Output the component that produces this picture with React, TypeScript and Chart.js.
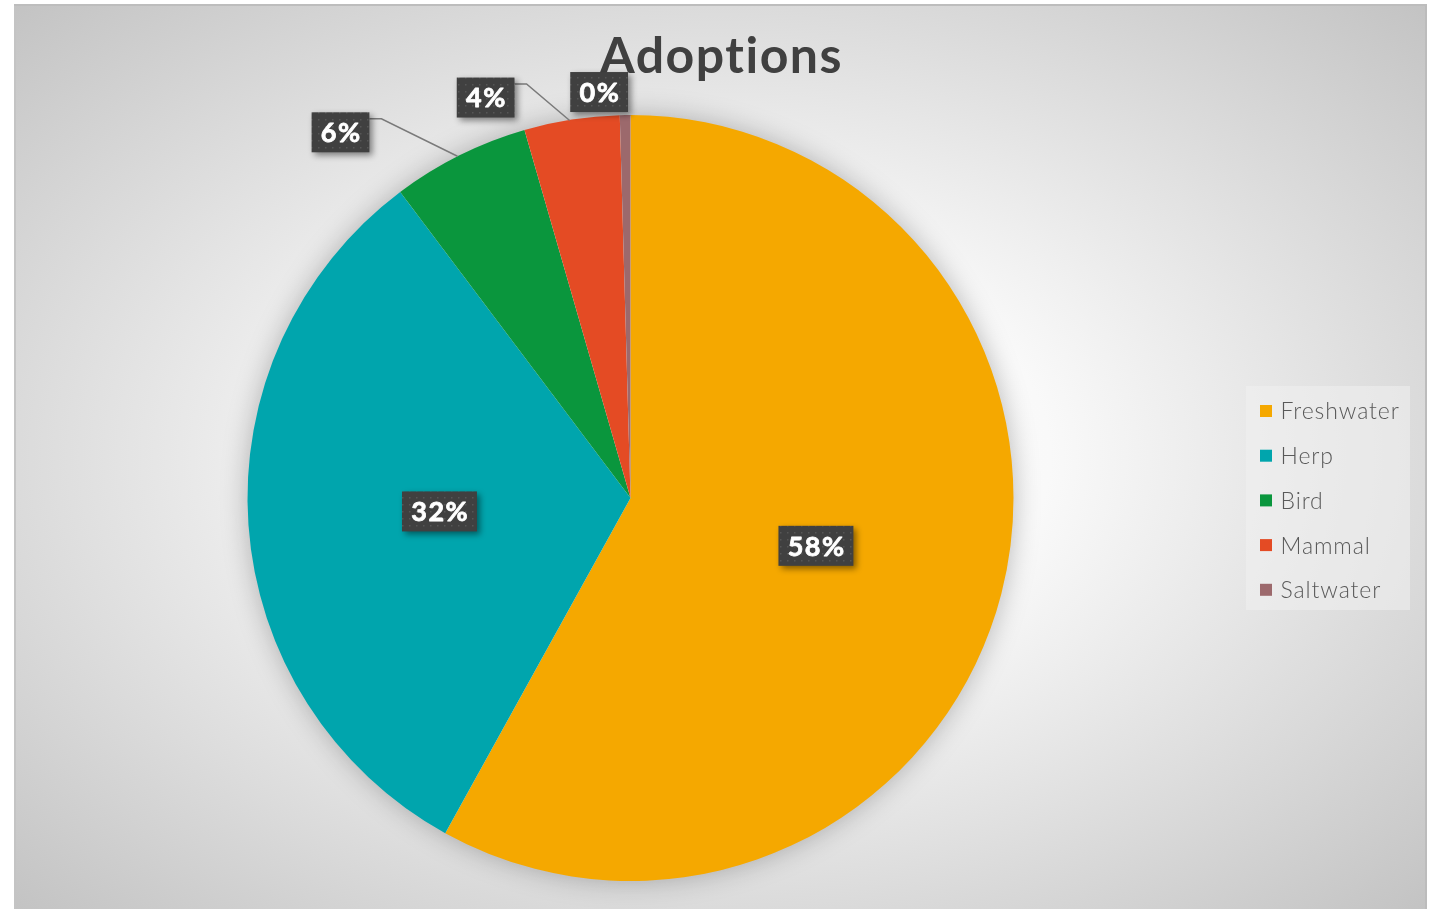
import React, { useEffect, useRef } from "react";
import { Chart, registerables } from "chart.js";

Chart.register(...registerables);

const categories = ["Freshwater", "Herp", "Bird", "Mammal", "Saltwater"];
const adoptions = [130, 71, 13, 9, 1];
const sliceColors = ["#F5A800", "#00A5AD", "#0A963D", "#E44B24", "#9C696C"];
const chartTitle = "Adoptions";
// label placement: inside at arc centre, or outside with offset from the arc's rim point
const labelPlacement = ["inside", "inside", "outside", "outside", "outside"];
const outsideOffsets: (number[] | null)[] = [null, null, [-119, -23], [-86, -22], [-26, -23]];
const leaderLines = [false, false, true, true, false];

const W = 1413;
const H = 905;

function makeDotPattern(ctx: CanvasRenderingContext2D) {
  const c = document.createElement("canvas");
  c.width = 7;
  c.height = 7;
  const p = c.getContext("2d")!;
  p.fillStyle = "#404040";
  p.fillRect(0, 0, 7, 7);
  p.fillStyle = "#565656";
  p.fillRect(3, 3, 1.5, 1.5);
  return ctx.createPattern(c, "repeat")!;
}

const decorPlugin = {
  id: "decor",
  beforeDatasetsDraw(chart: any) {
    const meta = chart.getDatasetMeta(0);
    const a = meta.data[0];
    if (!a) return;
    const ctx = chart.ctx;
    ctx.save();
    ctx.shadowColor = "rgba(0,0,0,0.28)";
    ctx.shadowBlur = 28;
    ctx.fillStyle = "#ffffff";
    ctx.beginPath();
    ctx.arc(a.x, a.y, a.outerRadius - 1, 0, Math.PI * 2);
    ctx.fill();
    ctx.restore();
  },
  afterDraw(chart: any) {
    const ctx: any = chart.ctx;
    const meta = chart.getDatasetMeta(0);
    const data: number[] = chart.data.datasets[0].data;
    const total = data.reduce((s, v) => s + v, 0);
    const pattern = makeDotPattern(ctx);

    // Title
    ctx.save();
    ctx.font = "bold 50px Lato";
    ctx.letterSpacing = "1.5px";
    ctx.fillStyle = "#404040";
    ctx.textAlign = "center";
    ctx.textBaseline = "alphabetic";
    ctx.fillText(chartTitle, W / 2 + 1, 69);
    ctx.restore();

    // Data labels
    meta.data.forEach((arc: any, i: number) => {
      const text = Math.round((data[i] / total) * 100) + "%";
      const mid = (arc.startAngle + arc.endAngle) / 2;
      let cx: number, cy: number;
      const rimX = arc.x + Math.cos(mid) * arc.outerRadius;
      const rimY = arc.y + Math.sin(mid) * arc.outerRadius;
      if (labelPlacement[i] === "inside") {
        const c = arc.getCenterPoint();
        cx = c.x;
        cy = c.y;
      } else {
        const off = outsideOffsets[i] || [0, 0];
        cx = rimX + off[0];
        cy = rimY + off[1];
      }
      ctx.save();
      ctx.font = "bold 27px Lato";
      ctx.letterSpacing = "1.5px";
      const tw = ctx.measureText(text).width;
      const bw = tw + 17;
      const bh = 40;
      const bx = cx - bw / 2;
      const by = cy - bh / 2;
      if (leaderLines[i]) {
        ctx.strokeStyle = "#7a7a7a";
        ctx.lineWidth = 1.5;
        ctx.beginPath();
        ctx.moveTo(bx + bw, by + 6.5);
        ctx.lineTo(bx + bw + 12, by + 6.5);
        ctx.lineTo(rimX - 2, rimY + 1);
        ctx.stroke();
      }
      ctx.shadowColor = "rgba(0,0,0,0.45)";
      ctx.shadowBlur = 6;
      ctx.shadowOffsetX = 3;
      ctx.shadowOffsetY = 3;
      ctx.fillStyle = pattern;
      ctx.fillRect(bx, by, bw, bh);
      ctx.shadowColor = "transparent";
      ctx.shadowBlur = 0;
      ctx.shadowOffsetX = 0;
      ctx.shadowOffsetY = 0;
      ctx.fillStyle = "#ffffff";
      ctx.strokeStyle = "#ffffff";
      ctx.lineWidth = 0.8;
      ctx.lineJoin = "round";
      ctx.textAlign = "center";
      ctx.textBaseline = "middle";
      ctx.fillText(text, cx + 0.75, cy + 1);
      ctx.strokeText(text, cx + 0.75, cy + 1);
      ctx.restore();
    });

    // Legend
    const lx = 1232;
    const ly = 382;
    ctx.save();
    ctx.fillStyle = "rgba(240,240,240,0.55)";
    ctx.fillRect(lx, ly, 164, 224);
    ctx.font = "300 23px Lato";
    ctx.letterSpacing = "0.9px";
    ctx.textBaseline = "middle";
    ctx.textAlign = "left";
    chart.data.labels.forEach((lab: string, i: number) => {
      const y = 407 + i * 44.7;
      ctx.fillStyle = chart.data.datasets[0].backgroundColor[i];
      ctx.fillRect(1246, y - 6, 12, 12);
      ctx.fillStyle = "#595959";
      ctx.fillText(lab, 1266.5, y + 1);
    });
    ctx.restore();
  },
};

export default function App() {
  const ref = useRef<HTMLCanvasElement>(null);
  useEffect(() => {
    document.body.style.margin = "0";
    const chart = new Chart(ref.current!, {
      type: "pie",
      data: {
        labels: categories,
        datasets: [
          {
            data: adoptions,
            backgroundColor: sliceColors,
            borderWidth: 0,
          },
        ],
      },
      options: {
        animation: false,
        responsive: false,
        layout: { padding: { left: 233.5, right: 413.5, top: 111, bottom: 28 } },
        plugins: {
          legend: { display: false },
          title: { display: false },
          tooltip: { enabled: false },
        },
      },
      plugins: [decorPlugin],
    });
    return () => chart.destroy();
  }, []);
  return (
    <div
      style={{
        position: "absolute",
        left: 14,
        top: 4,
        width: W,
        height: H,
        background:
          "radial-gradient(farthest-corner at 50% 50%, #ffffff 0%, #f9f9f9 33%, #c3c3c3 100%)",
        boxShadow: "inset 0 2px 0 #bdbdbd, inset 2px 0 0 #c4c4c4, inset -2px 0 0 #bcbcbc",
      }}
    >
      <canvas ref={ref} width={W} height={H} style={{ display: "block" }} />
    </div>
  );
}
